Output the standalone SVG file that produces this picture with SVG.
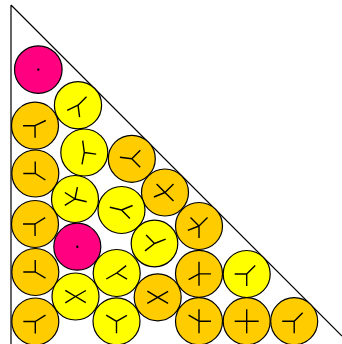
<svg xmlns="http://www.w3.org/2000/svg" width="342" height="344" viewBox="0 0 342 344">
<style>
.c{stroke:#000;stroke-width:1.2}
.o{fill:#FFCC00}
.y{fill:#FFFF00}
.p{fill:#FF0080}
.l{stroke:#000;stroke-width:1.4;fill:none;stroke-linecap:butt}
.w{stroke:#000;stroke-width:1.2;fill:none}
</style>
<rect width="342" height="344" fill="#fff"/>
<g id="walls">
<path class="w" d="M11,5 L11,346 M11,5 L342,336"/>
</g>
<g id="n1"><circle class="c p" cx="38.3" cy="69.6" r="23.8"/><circle cx="38.3" cy="69.6" r="1.2"/></g>
<g id="n2"><circle class="c y" cx="78" cy="105.2" r="23.6"/><path class="l" d="M78,105.2L86.5,96.7M78,105.2L67.2,110.4M78,105.2L79.6,117.1"/></g>
<g id="n3"><circle class="c o" cx="35" cy="125.7" r="23.5"/><path class="l" d="M35,125.7L23,125.7M35,125.7L45.8,120.5M35,125.7L35.1,137.7"/></g>
<g id="n4"><circle class="c y" cx="84.3" cy="152.5" r="23.5"/><path class="l" d="M84.3,152.5L82.7,140.6M84.3,152.5L96.2,154.1M84.3,152.5L82,164.3"/></g>
<g id="n5"><circle class="c o" cx="35.3" cy="173.5" r="23.5"/><path class="l" d="M35.3,173.5L35.2,161.5M35.3,173.5L23.3,173.5M35.3,173.5L45.4,180"/></g>
<g id="n6"><circle class="c o" cx="131.8" cy="158.8" r="23.5"/><path class="l" d="M131.8,158.8L119.9,157.2M131.8,158.8L140.3,150.3M131.8,158.8L140.2,167.3"/></g>
<g id="n7"><circle class="c y" cx="75" cy="199" r="23.5"/><path class="l" d="M75,199L77.4,187.2M75,199L64.9,192.5M75,199L86.7,201.8M75,199L64.8,205.4"/></g>
<g id="n8"><circle class="c o" cx="165" cy="192.5" r="23.5"/><path class="l" d="M165,192.5L156.6,184M165,192.5L173.5,184M165,192.5L153.9,197M165,192.5L173.5,200.9"/></g>
<g id="n9"><circle class="c y" cx="121.5" cy="210" r="23.5"/><path class="l" d="M121.5,210L109.8,207.2M121.5,210L132.6,205.5M121.5,210L129.9,218.6"/></g>
<g id="n10"><circle class="c o" cx="35" cy="224" r="23.5"/><path class="l" d="M35,224L23,224M35,224L45.2,217.6M35,224L35.1,236"/></g>
<g id="n11"><circle class="c p" cx="77.3" cy="246.7" r="23.5"/><circle cx="77.3" cy="246.7" r="1.2"/></g>
<g id="n12"><circle class="c y" cx="154.5" cy="243.5" r="23.3"/><path class="l" d="M154.5,243.5L146.1,235M154.5,243.5L165.7,239.1M154.5,243.5L145,250.9"/></g>
<g id="n13"><circle class="c o" cx="199" cy="226" r="23.5"/><path class="l" d="M199,226L190.5,217.6M199,226L207.5,217.5M199,226L187.8,230.4M199,226L199,238"/></g>
<g id="n14"><circle class="c o" cx="35.3" cy="272" r="23.5"/><path class="l" d="M35.3,272L35.2,260M35.3,272L23.3,272M35.3,272L45.5,278.2"/></g>
<g id="n15"><circle class="c y" cx="116.7" cy="273" r="23.5"/><path class="l" d="M116.7,273L126.2,265.6M116.7,273L106.3,279M116.7,273L127,279.1"/></g>
<g id="n16"><circle class="c o" cx="199" cy="273.8" r="23.5"/><path class="l" d="M199,273.8L199,261.8M199,273.8L199,285.8M199,273.8L211,273.9M199,273.8L188.6,279.7"/></g>
<g id="n17"><circle class="c y" cx="246.7" cy="274" r="23.5"/><path class="l" d="M246.7,274L234.7,274M246.7,274L255.2,265.5M246.7,274L246.7,286"/></g>
<g id="n18"><circle class="c y" cx="75.5" cy="296.5" r="23.5"/><path class="l" d="M75.5,296.5L65.3,290.3M75.5,296.5L85.9,290.5M75.5,296.5L65.3,302.8M75.5,296.5L85.8,302.7"/></g>
<g id="n19"><circle class="c o" cx="157.7" cy="297.3" r="23.5"/><path class="l" d="M157.7,297.3L147.4,291.2M157.7,297.3L168.1,291.4M157.7,297.3L147.3,303.3M157.7,297.3L168.1,303.3"/></g>
<g id="n20"><circle class="c o" cx="35.3" cy="321.5" r="23.5"/><path class="l" d="M35.3,321.5L23.3,321.5M35.3,321.5L45.5,315.2M35.3,321.5L35.3,333.5"/></g>
<g id="n21"><circle class="c y" cx="116.5" cy="321.3" r="23.5"/><path class="l" d="M116.5,321.3L106.2,315.1M116.5,321.3L126.9,315.3M116.5,321.3L116.5,333.3"/></g>
<g id="n22"><circle class="c o" cx="199" cy="321.2" r="23.5"/><path class="l" d="M199,321.2L199,309.2M199,321.2L211,321.2M199,321.2L188.6,315.2M199,321.2L199,333.2"/></g>
<g id="n23"><circle class="c o" cx="246.7" cy="321.2" r="23.5"/><path class="l" d="M246.7,321.2L246.7,309.2M246.7,321.2L234.7,321.2M246.7,321.2L258.7,321.2M246.7,321.2L246.7,333.2"/></g>
<g id="n24"><circle class="c o" cx="294.2" cy="321.2" r="23.5"/><path class="l" d="M294.2,321.2L282.2,321.2M294.2,321.2L302.7,312.7M294.2,321.2L294.2,333.2"/></g>
<g id="connectors"></g>
</svg>
